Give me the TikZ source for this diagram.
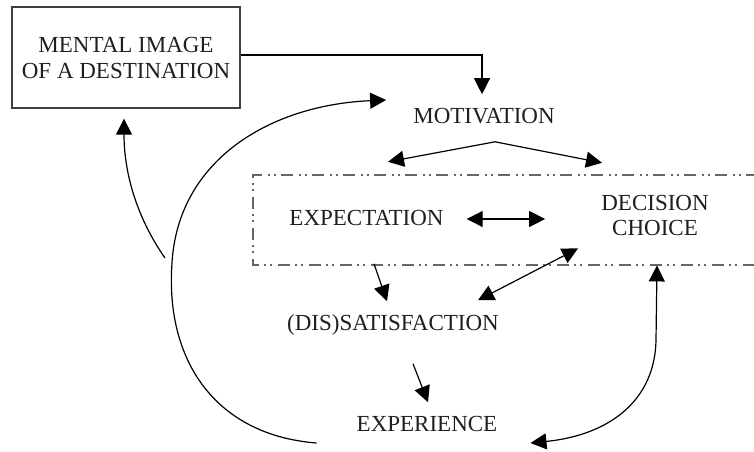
\documentclass[tikz,border=0pt]{standalone}
\usepackage{fontspec}
\setmainfont{Liberation Serif}
\usetikzlibrary{arrows.meta}

\begin{document}
\begin{tikzpicture}[x=1pt, y=-1pt,
    every node/.style={font=\fontsize{23}{26}\selectfont, text=black!88, inner sep=0pt, text height=15.2pt, text depth=0pt},
    multi/.style={align=center, text height=, text depth=},
    arr/.style={-{Triangle[length=16pt,width=16pt]}, line width=1.2pt},
    both/.style={{Triangle[length=16pt,width=16pt]}-{Triangle[length=16pt,width=16pt]}, line width=1.2pt},
    frame/.style={draw=black!75, line width=1.3pt},
    group/.style={draw=black!60, line width=1.6pt, dash pattern=on 12pt off 5pt on 2pt off 4pt on 2pt off 6pt}]

\useasboundingbox (0,0) rectangle (754,451);

\node[frame, multi, minimum width=228pt, minimum height=101pt] (mental) at (126,57.5) {MENTAL IMAGE\\OF A DESTINATION};
\node (motiv) at (484,116) {MOTIVATION};
\node (expect) at (366.5,218) {EXPECTATION};
\node[multi, font=\fontsize{23}{25}\selectfont] (decis) at (655,215) {DECISION\\CHOICE};
\node (satis) at (393,323) {(DIS)SATISFACTION};
\node (exper) at (427,424) {EXPERIENCE};
\coordinate (branch) at (165,258);

\draw[group] (758,175) -- (253,175) -- (253,265) -- (758,265);

\draw[arr] ([shift={(0,-2.5)}]mental.east) -| ([shift={(-2,-14)}]motiv.north);
\draw[both] ([shift={(-96,38)}]motiv.south) -- ([shift={(11,18)}]motiv.south) -- ([shift={(118,39)}]motiv.south);
\draw[both] ([shift={(23,1)}]expect.east) -- ([shift={(-56,4)}]decis.west);
\draw[arr] ([shift={(7.5,38)}]expect.south) -- ([shift={(-6,-14)}]satis.north);
\draw[both] ([shift={(-77,13)}]decis.south) -- ([shift={(85,-15)}]satis.north);
\draw[arr] ([shift={(20,33)}]satis.south) -- ([shift={(1,-14)}]exper.north);
\draw[both] ([shift={(33,19)}]exper.east) .. controls (610,435) and (655,400) .. (656,340) -- ([shift={(2,30)}]decis.south);
\draw[arr] ([shift={(-40,19)}]exper.west) .. controls (215,435) and (165,360) .. (172,263) .. controls (178,160) and (270,105) .. ([shift={(-27,-16)}]motiv.west);
\draw[arr] (branch) .. controls (135,215) and (124,170) .. ([shift={(-2,10)}]mental.south);

\end{tikzpicture}
\end{document}
